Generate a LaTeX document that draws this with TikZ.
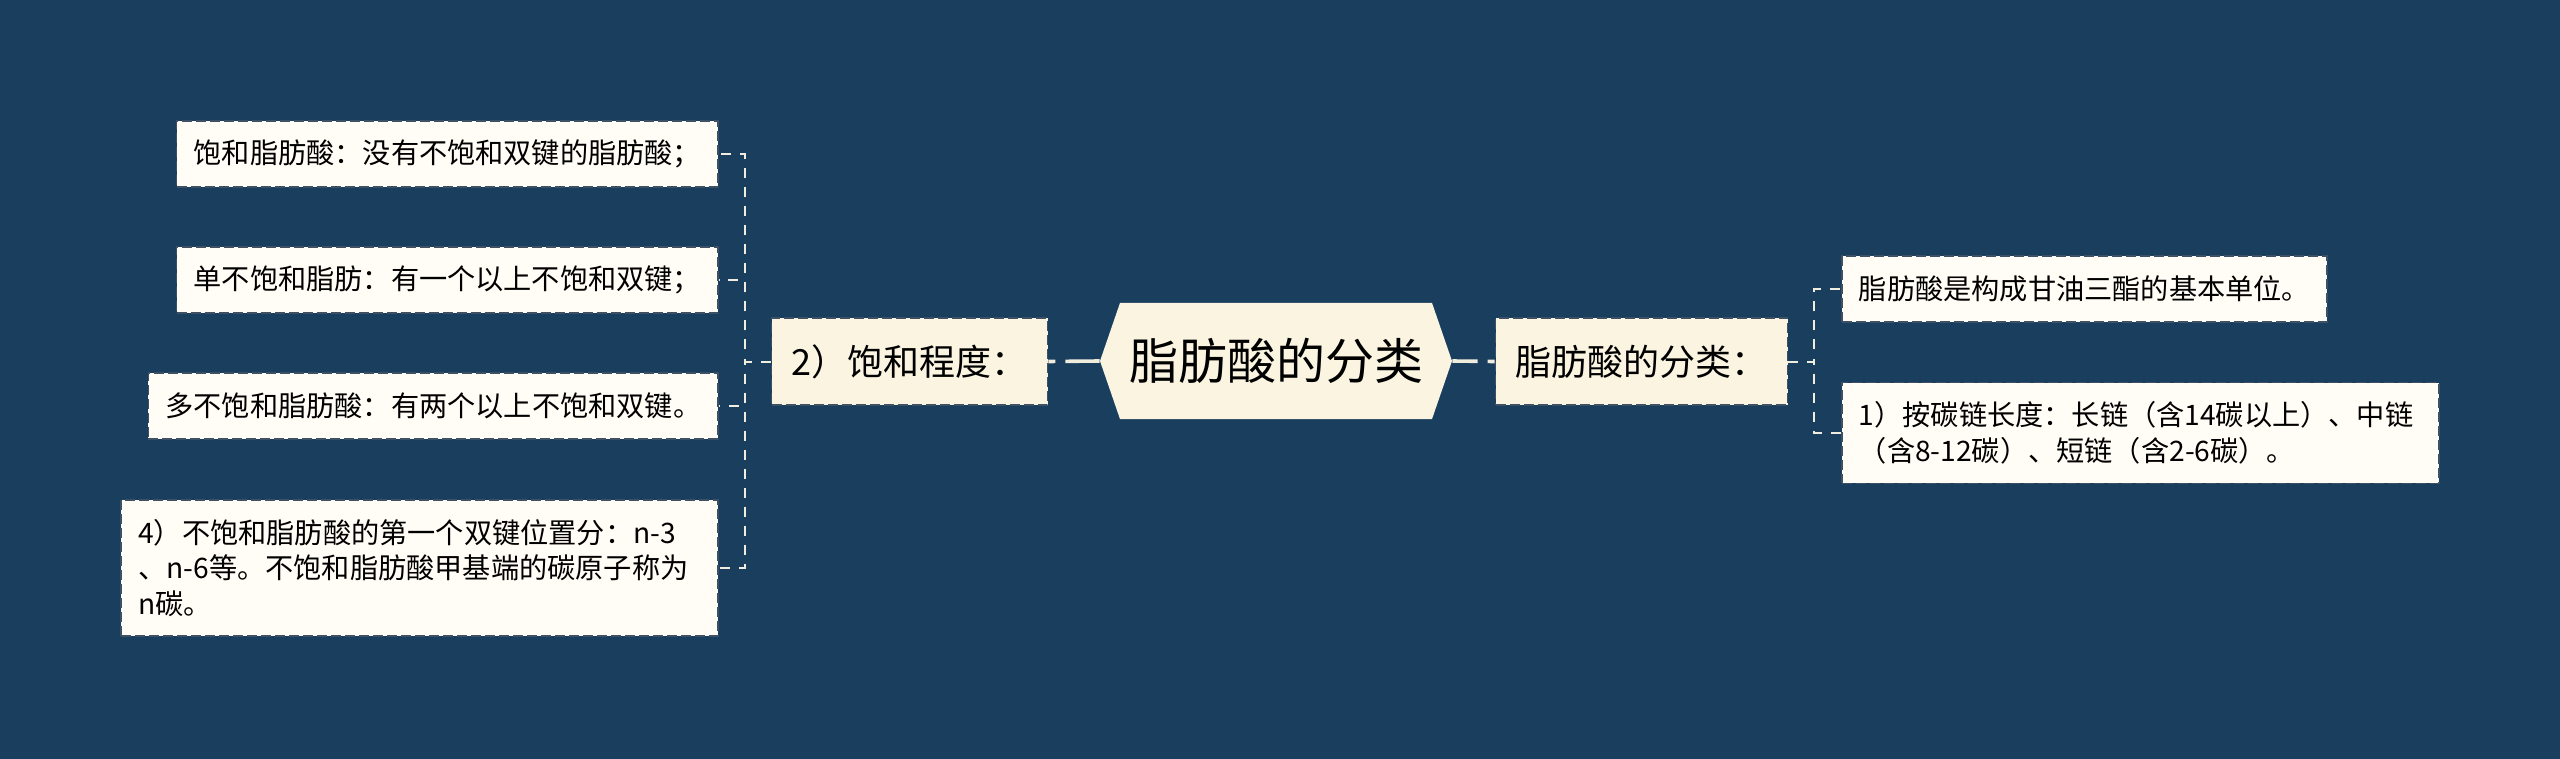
\documentclass[tikz,border=0pt]{standalone}
\usepackage{fontspec}
\setmainfont{Noto Sans CJK SC}
\usepackage{tikz}
\usetikzlibrary{shapes.symbols,positioning}
\definecolor{bgblue}{RGB}{26,62,94}
\definecolor{leafcream}{RGB}{255,253,245}
\definecolor{midcream}{RGB}{250,244,225}
\definecolor{edgegray}{RGB}{62,80,100}
\definecolor{linecream}{RGB}{240,236,222}

\begin{document}
\begin{tikzpicture}[x=0.5pt, y=-0.5pt,
    leaf/.style={rectangle, draw=edgegray, line width=0.8pt, dash pattern=on 5pt off 2pt, fill=leafcream, inner xsep=8.5pt, inner ysep=9.5pt, minimum height=33pt, align=left, font=\fontsize{14.1pt}{17.9pt}\selectfont},
    branch/.style={rectangle, draw=edgegray, line width=0.8pt, dash pattern=on 5pt off 2pt, fill=midcream, inner xsep=10pt, minimum height=43.5pt, font=\fontsize{18pt}{22pt}\selectfont},
    root/.style={signal, signal to=west and east, signal pointer angle=142, fill=midcream, inner xsep=4pt, minimum width=176pt, minimum height=58pt, font=\fontsize{24.5pt}{30pt}\selectfont},
    twig/.style={draw=linecream, line width=1pt, dash pattern=on 5pt off 4.5pt},
    trunk/.style={draw=linecream, line width=1.8pt, dash pattern=on 3.5pt off 5pt on 60pt off 1pt}]
    % Background
    \fill[bgblue] (0,0) rectangle (2560,759);

    % Define nodes
    \node[root] (root) at (1276,361) {脂肪酸的分类};
    \node[branch] (deg) at (909.5,361.5) {2）饱和程度：};
    \node[branch] (kind) at (1641.5,361.5) {脂肪酸的分类：};

    % Left leaves
    \node[leaf, anchor=east] (sfa) at (719,154) {饱和脂肪酸：没有不饱和双键的脂肪酸；};
    \node[leaf, anchor=east] (mufa) at (719,280) {单不饱和脂肪：有一个以上不饱和双键；};
    \node[leaf, anchor=east] (pufa) at (719,406) {多不饱和脂肪酸：有两个以上不饱和双键。};
    \node[leaf, anchor=east, text width=281.5pt] (pos) at (719,568) {4）不饱和脂肪酸的第一个双键位置分：n-3\\、n-6等。不饱和脂肪酸甲基端的碳原子称为\\n碳。};

    % Right leaves
    \node[leaf, anchor=west] (unit) at (1841,289) {脂肪酸是构成甘油三酯的基本单位。};
    \node[leaf, anchor=west, text width=281.5pt] (len) at (1841,433) {1）按碳链长度：长链（含14碳以上）、中链\\（含8-12碳）、短链（含2-6碳）。};

    % Define connectors
    \draw[trunk] (deg.east) -- (root.west);
    \draw[trunk] (kind.west) -- (root.east);
    \foreach \leaf in {sfa,mufa,pufa,pos}
        \draw[twig] (deg.west) -- ++(-26,0) |- (\leaf.east);
    \foreach \leaf in {unit,len}
        \draw[twig] (kind.east) -- ++(26,0) |- (\leaf.west);
\end{tikzpicture}
\end{document}
